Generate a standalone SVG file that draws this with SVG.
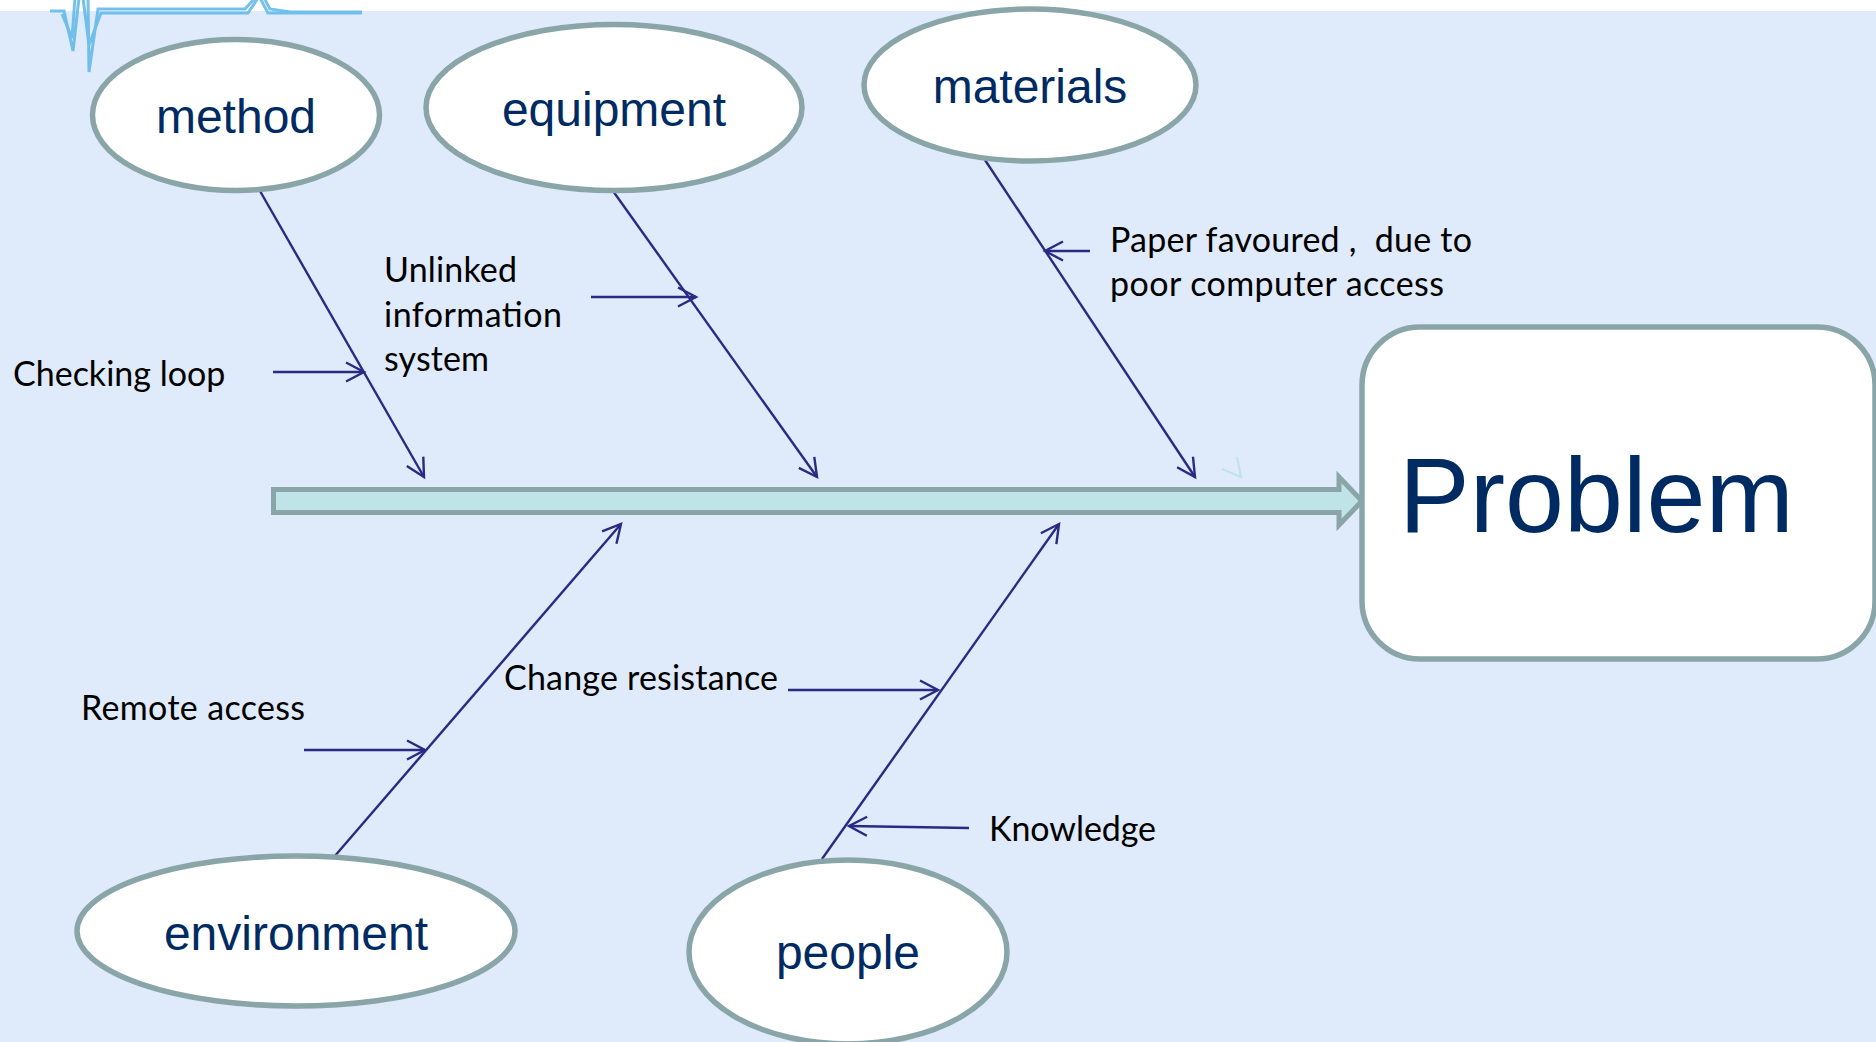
<svg xmlns="http://www.w3.org/2000/svg" width="1876" height="1042" viewBox="0 0 1876 1042">
<defs>
<marker id="oa" markerUnits="userSpaceOnUse" markerWidth="24" markerHeight="24" refX="20" refY="12" orient="auto"><path d="M2 2.500L20 12L2 21.500" fill="none" stroke="#2a2a82" stroke-width="2.400"/></marker>
</defs>
<style>
.n{fill:#fff;stroke:#8aa5a8;stroke-width:5.500}
.t{font-family:"Liberation Sans",Arial,sans-serif;fill:#002b62;text-anchor:middle;font-size:48px}
.l{font-family:Lato,"Open Sans",sans-serif;fill:#000;font-size:34px;white-space:pre}
.c{fill:none;stroke:#2a2a82;stroke-width:2.400;marker-end:url(#oa)}
</style>
<rect width="1876" height="1042" fill="#dfeafa"/>
<rect width="1876" height="11" fill="#fff"/>
<g id="logo" fill="none" stroke="#5db7e8" stroke-width="3" opacity="0.85">
<path d="M50 11H64L73 51L79 -2M88 -2L89 72L98 9H245L255 -2M264 -2L270 9L290 12H362"/>
<path d="M62 14L72 38L75 -2M83 -2L89 45L101 13H248L258 -2M260 -2L268 13H362"/>
</g>
<g id="connectors">
<line class="c" x1="260" y1="191" x2="424" y2="477"/>
<line class="c" x1="613" y1="191" x2="817" y2="477"/>
<line class="c" x1="985" y1="160" x2="1195" y2="477"/>
<line class="c" x1="334" y1="857" x2="621" y2="524"/>
<line class="c" x1="822" y1="859" x2="1059" y2="524"/>
<line class="c" x1="273" y1="372" x2="364" y2="372"/>
<line class="c" x1="591" y1="297" x2="696" y2="297"/>
<line class="c" x1="1090" y1="251" x2="1045" y2="251"/>
<line class="c" x1="304" y1="750" x2="425" y2="750"/>
<line class="c" x1="788" y1="690" x2="938" y2="690"/>
<line class="c" x1="969" y1="828" x2="849" y2="826"/>
<path d="M1222 469L1241 477L1237 457" fill="none" stroke="#bfe3e6" stroke-width="2"/>
</g>
<g id="spine"><path d="M273.500 489.500H1339V477L1362 501L1339 525V512.500H273.500Z" fill="#bfe3e6" stroke="#8aa5a8" stroke-width="5"/></g>
<g id="method"><ellipse class="n" cx="236" cy="115" rx="143.500" ry="75.500"/><text class="t" x="236" y="133">method</text></g>
<g id="equipment"><ellipse class="n" cx="614" cy="107.500" rx="188" ry="83"/><text class="t" x="614" y="126">equipment</text></g>
<g id="materials"><ellipse class="n" cx="1030" cy="85" rx="166" ry="76"/><text class="t" x="1030" y="103">materials</text></g>
<g id="environment"><ellipse class="n" cx="296" cy="931" rx="219" ry="75"/><text class="t" x="296" y="950">environment</text></g>
<g id="people"><ellipse class="n" cx="848" cy="952" rx="159" ry="92"/><text class="t" x="848" y="969">people</text></g>
<g id="problem"><rect class="n" x="1362" y="327" width="513" height="332" rx="58"/><text x="1399" y="532" font-family="'Liberation Sans',Arial,sans-serif" font-size="106" fill="#002b62">Problem</text></g>
<g id="labels">
<text class="l" x="13" y="386">Checking loop</text>
<text class="l" x="384" y="282" textLength="133">Unlinked</text>
<text class="l" x="384" y="327" textLength="178">information</text>
<text class="l" x="384" y="371" textLength="105">system</text>
<text class="l" x="1110" y="252" textLength="362">Paper favoured ,  due to</text>
<text class="l" x="1110" y="296" textLength="334">poor computer access</text>
<text class="l" x="81" y="720" textLength="224">Remote access</text>
<text class="l" x="504" y="690" textLength="274">Change resistance</text>
<text class="l" x="989" y="841" textLength="167">Knowledge</text>
</g>
</svg>
